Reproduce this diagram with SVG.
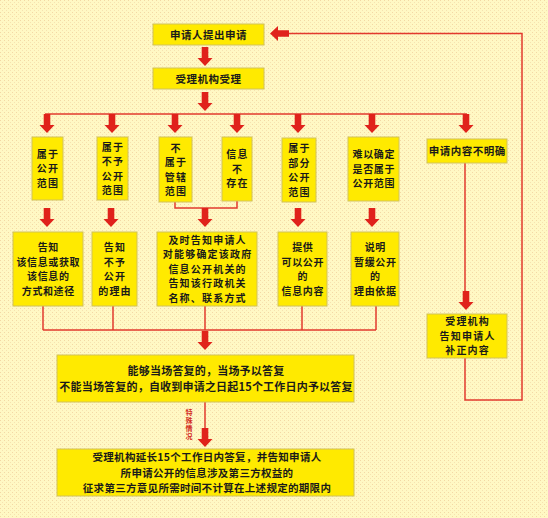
<svg xmlns="http://www.w3.org/2000/svg" xmlns:xlink="http://www.w3.org/1999/xlink" width="548" height="518" viewBox="0 0 548 518">
<style>
.bx{fill:#FFEA00;stroke:#D2C25A;stroke-width:1}
.t{font-family:"Noto Sans CJK SC","Noto Sans CJK JP",sans-serif;font-weight:bold;font-size:10px;fill:#1a1a1a;text-anchor:middle;letter-spacing:0.6px}
.s{letter-spacing:1.2px}
.h{font-size:10.5px;letter-spacing:0.5px}
.tb{font-size:11px;letter-spacing:0.2px}
.te{font-size:10.5px;letter-spacing:0.3px}
.ln{fill:none;stroke:#E23A2E;stroke-width:1.5}
.ar{fill:#E0221B}
.lab{font-family:"Noto Sans CJK SC",sans-serif;font-weight:bold;font-size:7px;fill:#D22A20;writing-mode:vertical-rl;text-orientation:upright;letter-spacing:0.8px}
</style>
<defs>
<pattern id="dots" width="4" height="4" patternUnits="userSpaceOnUse">
<rect width="4" height="4" fill="#FFF8C4"/>
<rect x="0" y="0" width="1" height="1" fill="#F3D8A4"/>
<rect x="2" y="2" width="1" height="1" fill="#F6E2B0"/>
</pattern>
<path id="arr" class="ar" d="M-3.3,0 H3.3 V11 H7.5 L0,19 L-7.5,11 H-3.3 Z"/>
</defs>
<rect width="548" height="518" fill="url(#dots)"/>

<g id="connectors">
<use xlink:href="#arr" x="205" y="47"/>
<use xlink:href="#arr" x="205" y="92"/>
<line class="ln" x1="45" y1="114" x2="467" y2="114"/>
<use xlink:href="#arr" x="47" y="114"/>
<use xlink:href="#arr" x="112" y="114"/>
<use xlink:href="#arr" x="175" y="114"/>
<use xlink:href="#arr" x="237" y="114"/>
<use xlink:href="#arr" x="298" y="114"/>
<use xlink:href="#arr" x="372" y="114"/>
<use xlink:href="#arr" x="466" y="114"/>
<use xlink:href="#arr" x="47" y="208"/>
<use xlink:href="#arr" x="111" y="208"/>
<polyline class="ln" points="175,202 175,208 237,208 237,201"/>
<use xlink:href="#arr" x="205" y="208"/>
<use xlink:href="#arr" x="298" y="208"/>
<use xlink:href="#arr" x="372" y="208"/>
<line class="ln" x1="43" y1="306" x2="43" y2="330"/>
<line class="ln" x1="113" y1="306" x2="113" y2="330"/>
<line class="ln" x1="205" y1="306" x2="205" y2="330"/>
<line class="ln" x1="302" y1="306" x2="302" y2="330"/>
<line class="ln" x1="376" y1="306" x2="376" y2="330"/>
<line class="ln" x1="43" y1="330" x2="376" y2="330"/>
<use xlink:href="#arr" x="205" y="331"/>
<line class="ln" x1="205" y1="402" x2="205" y2="428"/>
<use xlink:href="#arr" x="205" y="428"/>
<text class="lab" x="189" y="409">特殊情况</text>
<line class="ln" x1="465" y1="163" x2="465" y2="291"/>
<use xlink:href="#arr" x="466" y="291"/>
<polyline class="ln" points="465,358 465,400 522,400 522,33.5 289,33.5"/>
<use xlink:href="#arr" transform="translate(289,33.5) rotate(90)"/>
</g>

<g id="n-apply">
<rect class="bx" x="153" y="24" width="111" height="21"/>
<text class="t h" x="208.5" y="38.5">申请人提出申请</text>
</g>
<g id="n-accept">
<rect class="bx" x="153" y="68" width="111" height="21"/>
<text class="t h" x="208.5" y="82.5">受理机构受理</text>
</g>

<g id="n-public">
<rect class="bx" x="32" y="137" width="31" height="63"/>
<text class="t s" x="48" y="157.8">属于</text>
<text class="t s" x="48" y="172.3">公开</text>
<text class="t s" x="48" y="186.8">范围</text>
</g>
<g id="n-notpublic">
<rect class="bx" x="97" y="137" width="31" height="63"/>
<text class="t s" x="113" y="150.6">属于</text>
<text class="t s" x="113" y="165.1">不予</text>
<text class="t s" x="113" y="179.6">公开</text>
<text class="t s" x="113" y="194.1">范围</text>
</g>
<g id="n-notjuris">
<rect class="bx" x="159" y="137" width="33" height="65"/>
<text class="t s" x="176" y="151.6">不</text>
<text class="t s" x="176" y="166.1">属于</text>
<text class="t s" x="176" y="180.6">管辖</text>
<text class="t s" x="176" y="195.1">范围</text>
</g>
<g id="n-noinfo">
<rect class="bx" x="222" y="137" width="30" height="64"/>
<text class="t s" x="237.5" y="158.3">信息</text>
<text class="t s" x="237.5" y="172.8">不</text>
<text class="t s" x="237.5" y="187.3">存在</text>
</g>
<g id="n-partial">
<rect class="bx" x="282" y="138" width="34" height="64"/>
<text class="t s" x="299.5" y="152.1">属于</text>
<text class="t s" x="299.5" y="166.6">部分</text>
<text class="t s" x="299.5" y="181.1">公开</text>
<text class="t s" x="299.5" y="195.6">范围</text>
</g>
<g id="n-uncertain">
<rect class="bx" x="348" y="137" width="51" height="64"/>
<text class="t" x="373.8" y="158.3">难以确定</text>
<text class="t" x="373.8" y="172.8">是否属于</text>
<text class="t" x="373.8" y="187.3">公开范围</text>
</g>
<g id="n-unclear">
<rect class="bx" x="427" y="139" width="80" height="24"/>
<text class="t h" x="467.3" y="155">申请内容不明确</text>
</g>

<g id="n-tellway">
<rect class="bx" x="13" y="232" width="70" height="74"/>
<text class="t" x="48.3" y="251.1">告知</text>
<text class="t" x="48.3" y="265.6">该信息或获取</text>
<text class="t" x="48.3" y="280.1">该信息的</text>
<text class="t" x="48.3" y="294.6">方式和途径</text>
</g>
<g id="n-tellreason">
<rect class="bx" x="92" y="232" width="45" height="74"/>
<text class="t s" x="115" y="251.1">告知</text>
<text class="t s" x="115" y="265.6">不予</text>
<text class="t s" x="115" y="280.1">公开</text>
<text class="t s" x="115" y="294.6">的理由</text>
</g>
<g id="n-tellagency">
<rect class="bx" x="157" y="232" width="100" height="74"/>
<text class="t s" x="207.6" y="243.8">及时告知申请人</text>
<text class="t s" x="207.6" y="258.3">对能够确定该政府</text>
<text class="t s" x="207.6" y="272.8">信息公开机关的</text>
<text class="t s" x="207.6" y="287.3">告知该行政机关</text>
<text class="t s" x="207.6" y="301.8">名称、联系方式</text>
</g>
<g id="n-provide">
<rect class="bx" x="278" y="232" width="49" height="74"/>
<text class="t" x="302.8" y="251.1">提供</text>
<text class="t" x="302.8" y="265.6">可以公开</text>
<text class="t" x="302.8" y="280.1">的</text>
<text class="t" x="302.8" y="294.6">信息内容</text>
</g>
<g id="n-defer">
<rect class="bx" x="351" y="232" width="48" height="74"/>
<text class="t" x="375.3" y="251.1">说明</text>
<text class="t" x="375.3" y="265.6">暂缓公开</text>
<text class="t" x="375.3" y="280.1">的</text>
<text class="t" x="375.3" y="294.6">理由依据</text>
</g>
<g id="n-supplement">
<rect class="bx" x="427" y="314" width="80" height="44"/>
<text class="t s" x="467.6" y="325.3">受理机构</text>
<text class="t s" x="467.6" y="339.8">告知申请人</text>
<text class="t s" x="467.6" y="354.3">补正内容</text>
</g>

<g id="n-reply">
<rect class="bx" x="57" y="355" width="297" height="47"/>
<text class="t tb" x="206" y="374.7">能够当场答复的，当场予以答复</text>
<text class="t tb" x="206" y="390.7">不能当场答复的，自收到申请之日起15个工作日内予以答复</text>
</g>
<g id="n-extend">
<rect class="bx" x="57" y="449" width="297" height="47"/>
<text class="t te" x="207" y="461.2">受理机构延长15个工作日内答复，并告知申请人</text>
<text class="t te" x="207" y="476.5">所申请公开的信息涉及第三方权益的</text>
<text class="t te" x="207" y="491.8">征求第三方意见所需时间不计算在上述规定的期限内</text>
</g>
</svg>
